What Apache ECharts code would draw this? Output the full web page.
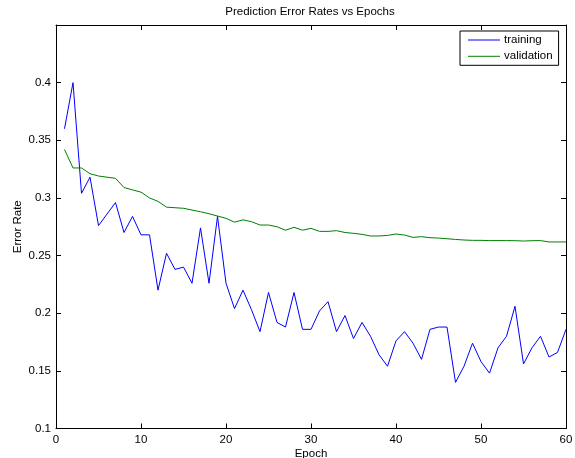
<!DOCTYPE html>
<html>
<head>
<meta charset="utf-8">
<script src="https://cdn.jsdelivr.net/npm/echarts@6/dist/echarts.min.js"></script>
<style>html,body{margin:0;padding:0;background:#fff}#c{width:575px;height:458px}</style>
</head>
<body>
<div id="c"></div>
<script>
const epochs = Array.from({length: 60}, (_, i) => i + 1);
const training = [
  0.360, 0.400, 0.304, 0.318, 0.276, 0.286, 0.296, 0.270, 0.284, 0.268,
  0.268, 0.220, 0.252, 0.238, 0.240, 0.226, 0.274, 0.226, 0.284, 0.226,
  0.204, 0.220, 0.203, 0.184, 0.218, 0.192, 0.188, 0.218, 0.186, 0.186,
  0.202, 0.210, 0.184, 0.198, 0.178, 0.192, 0.180, 0.164, 0.154, 0.176,
  0.184, 0.174, 0.160, 0.186, 0.188, 0.188, 0.140, 0.154, 0.174, 0.158,
  0.148, 0.170, 0.180, 0.206, 0.156, 0.170, 0.180, 0.162, 0.166, 0.186
];
const validation = [
  0.342, 0.326, 0.326, 0.321, 0.319, 0.318, 0.317, 0.309, 0.307, 0.305,
  0.300, 0.297, 0.292, 0.2915, 0.291, 0.2895, 0.288, 0.2863, 0.2843, 0.2823,
  0.279, 0.281, 0.2794, 0.2765, 0.2765, 0.275, 0.272, 0.2745, 0.272, 0.2736,
  0.271, 0.271, 0.2716, 0.270, 0.2693, 0.2684, 0.267, 0.267, 0.2675, 0.2687,
  0.2678, 0.2658, 0.2664, 0.2655, 0.2652, 0.2646, 0.264, 0.2635, 0.2632, 0.2632,
  0.263, 0.263, 0.263, 0.2629, 0.2626, 0.2629, 0.263, 0.2618, 0.2618, 0.2618
];
const seriesNames = ['training', 'validation'];
const xTicks = [0, 10, 20, 30, 40, 50, 60];
const yTicks = [0.1, 0.15, 0.2, 0.25, 0.3, 0.35, 0.4];

const font = 'Liberation Sans, Arial, Helvetica, sans-serif';
const fs = 11.5;
const axisLine = {show: true, onZero: false, lineStyle: {color: '#000', width: 1}};
const tickIn = {show: true, inside: true, length: 5, lineStyle: {color: '#000', width: 1}};

const chart = echarts.init(document.getElementById('c'), null, {renderer: 'canvas'});
chart.setOption({
  animation: false,
  backgroundColor: '#fff',
  title: {
    text: 'Prediction Error Rates vs Epochs',
    left: 310, top: 6, padding: 0, textAlign: 'center',
    textStyle: {fontFamily: font, fontSize: fs, fontWeight: 'normal', color: '#000'}
  },
  legend: {
    data: seriesNames.map(n => ({name: n, icon: 'path://M0,0 L32,0 L32,1 L0,1 Z'})),
    orient: 'vertical',
    left: 460, top: 31,
    padding: [3, 6, 3, 8],
    itemWidth: 32, itemHeight: 10, itemGap: 4.3,
    backgroundColor: '#fff',
    borderColor: '#000', borderWidth: 1,
    textStyle: {fontFamily: font, fontSize: fs, color: '#000', padding: [0, 0, 0, -1]}
  },
  grid: {left: 56, right: 9, top: 25, bottom: 29.5, containLabel: false, outerBoundsMode: 'none'},
  xAxis: [{
    type: 'value', min: xTicks[0], max: xTicks[xTicks.length - 1], interval: 10,
    position: 'bottom',
    axisLine: axisLine, axisTick: tickIn, splitLine: {show: false},
    axisLabel: {fontFamily: font, fontSize: fs, color: '#000', margin: 5},
    name: 'Epoch', nameLocation: 'middle', nameGap: 19, nameMoveOverlap: false,
    nameTextStyle: {fontFamily: font, fontSize: fs, color: '#000'}
  }, {
    type: 'value', min: xTicks[0], max: xTicks[xTicks.length - 1], interval: 10,
    position: 'top',
    axisLine: axisLine, axisTick: tickIn, splitLine: {show: false},
    axisLabel: {show: false}
  }],
  yAxis: [{
    type: 'value', min: 0.1, max: 0.45, interval: 0.05,
    position: 'left',
    axisLine: axisLine, axisTick: tickIn, splitLine: {show: false},
    axisLabel: {
      fontFamily: font, fontSize: fs, color: '#000', margin: 5,
      formatter: v => (v > 0.425 ? '' : String(+v.toFixed(2)))
    },
    name: 'Error Rate', nameLocation: 'middle', nameGap: 32, nameMoveOverlap: false,
    nameTextStyle: {fontFamily: font, fontSize: fs, color: '#000'}
  }, {
    type: 'value', min: 0.1, max: 0.45, interval: 0.05,
    position: 'right',
    axisLine: axisLine, axisTick: tickIn, splitLine: {show: false},
    axisLabel: {show: false}
  }],
  series: [{
    name: seriesNames[0], type: 'line', xAxisIndex: 0, yAxisIndex: 0,
    data: epochs.map((e, i) => [e, training[i]]),
    symbol: 'none', color: '#0000ff', lineStyle: {color: '#0000ff', width: 1}
  }, {
    name: seriesNames[1], type: 'line', xAxisIndex: 0, yAxisIndex: 0,
    data: epochs.map((e, i) => [e, validation[i]]),
    symbol: 'none', color: '#008000', lineStyle: {color: '#008000', width: 1}
  }]
});
</script>
</body>
</html>
